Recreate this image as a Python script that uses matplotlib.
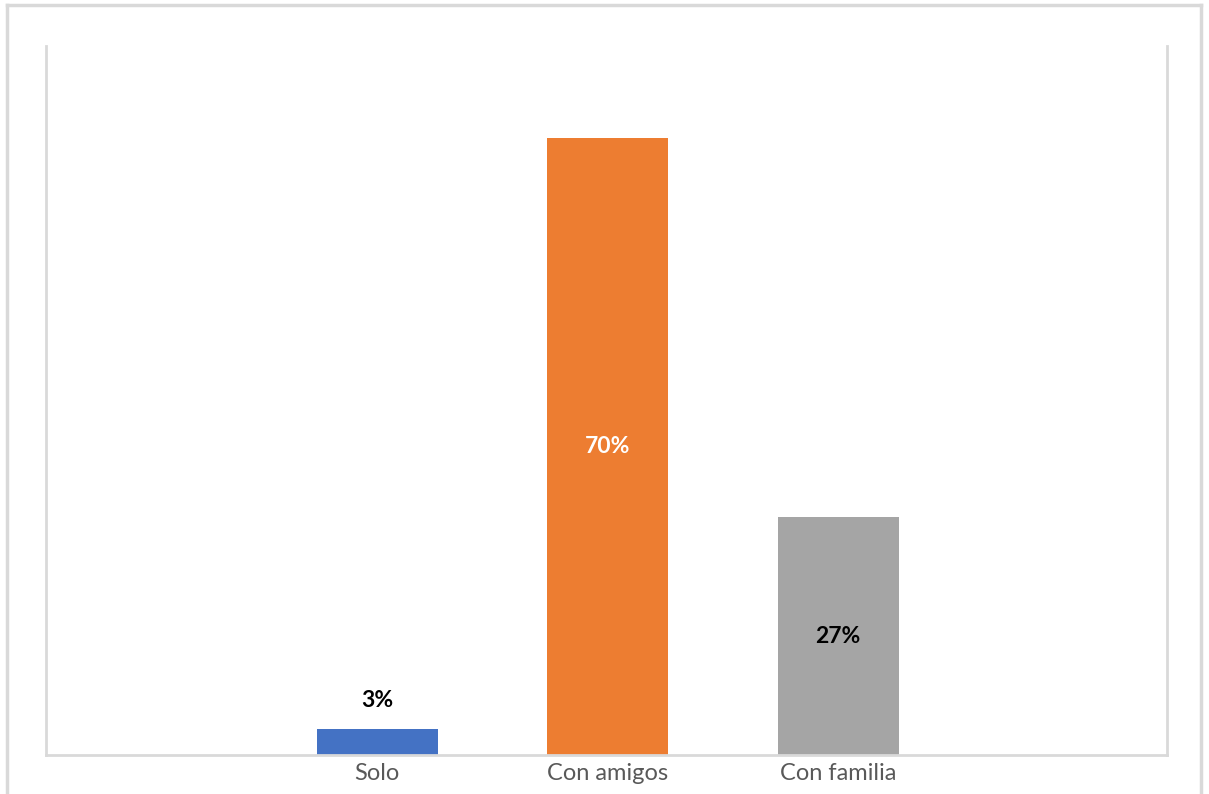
import matplotlib
matplotlib.use("Agg")
import matplotlib.pyplot as plt
from matplotlib.lines import Line2D

categories = ["Solo", "Con amigos", "Con familia"]
values = [3, 70, 27]
labels = ["3%", "70%", "27%"]
colors = ["#4472C4", "#ED7D31", "#A5A5A5"]
label_colors = ["#000000", "#FFFFFF", "#000000"]
label_inside = [False, True, True]

plt.rcParams['font.family'] = ['Lato', 'DejaVu Sans']

W, H = 1209, 794
fig = plt.figure(figsize=(W / 100, H / 100), dpi=100)
ax = fig.add_axes([46 / W, (H - 755) / H, (1167 - 46) / W, (755 - 46) / H])

x = list(range(len(categories)))
bars = ax.bar(x, values, width=121 / 230.5, color=colors, zorder=2)

ax.set_xlim((46 - 377) / 230.5, (1167 - 377) / 230.5)
ax.set_ylim(0, 709 / 8.814)

for b, v, lab, lc, inside in zip(bars, values, labels, label_colors, label_inside):
    cx = b.get_x() + b.get_width() / 2
    if inside:
        ax.text(cx, v / 2, lab, ha='center', va='center', color=lc,
                fontsize=16.5, fontweight='bold')
    else:
        ax.annotate(lab, (cx, v), xytext=(0, 13), textcoords='offset points',
                    ha='center', va='bottom', color=lc, fontsize=16.5, fontweight='bold')

ax.set_xticks(x)
ax.set_xticklabels(categories, fontsize=17, color='#595959')
ax.tick_params(axis='x', length=0, pad=6)
ax.set_yticks([])

for s in ['left', 'right', 'bottom']:
    ax.spines[s].set_color('#D9D9D9')
    ax.spines[s].set_linewidth(2)
ax.spines['top'].set_visible(False)

# outer chart border
bc = '#D9D9D9'
fig.add_artist(Line2D([7 / W, 7 / W], [0, (H - 5) / H], color=bc, lw=2.5, transform=fig.transFigure))
fig.add_artist(Line2D([1201 / W, 1201 / W], [0, (H - 5) / H], color=bc, lw=2.5, transform=fig.transFigure))
fig.add_artist(Line2D([7 / W, 1201 / W], [(H - 5) / H, (H - 5) / H], color=bc, lw=2.5, transform=fig.transFigure))

fig.savefig("out.png", dpi=100)
